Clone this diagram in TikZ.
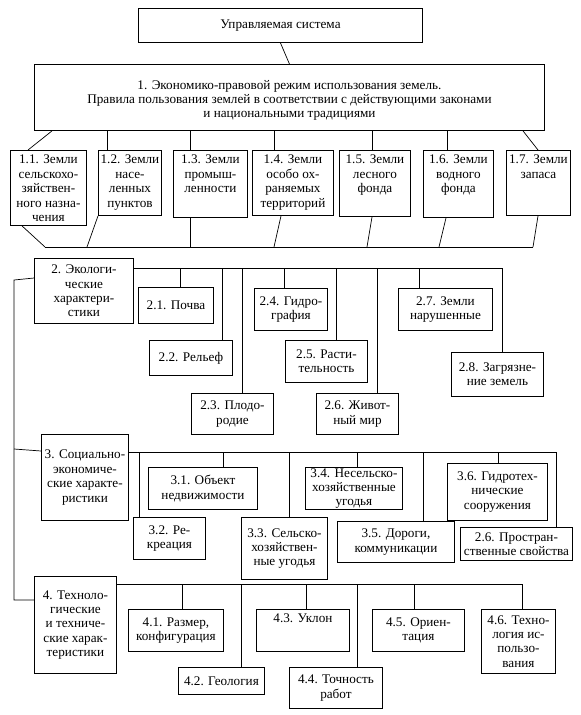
\documentclass[tikz,border=0pt]{standalone}
\usepackage{fontspec}
\setmainfont{Liberation Serif}
\newcommand\fs{\fontsize{13.2}{14.4}\selectfont}
\tikzset{
  box/.style={draw, line width=0.9pt, anchor=north west, inner sep=0pt},
  lbl/.style={align=center, inner sep=0pt, font=\fs},
  con/.style={line width=0.7pt},
}
% centred text box
\newcommand\B[6]{\node[box, minimum width={#4-#2}, minimum height={#5-#3}] (#1) at (#2,#3) {};
  \node[lbl] (#1t) at (#1.center) {#6};}
% top-aligned text box
\newcommand\T[6]{\node[box, minimum width={#4-#2}, minimum height={#5-#3}] (#1) at (#2,#3) {};
  \node[lbl, anchor=north] (#1t) at ([yshift=-5pt]#1.north) {#6};}
\begin{document}
\begin{tikzpicture}[x=1pt,y=-1pt]
\useasboundingbox (0,0) rectangle (581,715);
% ---- top
\B{top}{138}{8}{422}{42}{Управляемая система}
\node[box, minimum width={544-34}, minimum height={130-64}] (n1) at (34,64) {};
\node[lbl] (n1t) at ([yshift=-3pt]n1.center) {1. Экономико-правовой режим использования земель.\\Правила пользования землей в соответствии с действующими законами\\и национальными традициями};
\draw[con] (top.south) -- (n1.north);
% ---- level 1
\T{n11}{10}{150}{86}{225}{1.1. Земли\\сельскохо-\\зяйствен-\\ного назна-\\чения}
\T{n12}{98}{150}{161}{215}{1.2. Земли\\насе-\\ленных\\пунктов}
\T{n13}{173}{150}{247}{217}{1.3. Земли\\промыш-\\ленности}
\T{n14}{252}{150}{333}{215}{1.4. Земли\\особо ох-\\раняемых\\территорий}
\T{n15}{339}{150}{410}{216}{1.5. Земли\\лесного\\фонда}
\T{n16}{423}{150}{493}{217}{1.6. Земли\\водного\\фонда}
\T{n17}{506}{150}{570}{215}{1.7. Земли\\запаса}
\draw[con] ([xshift=18pt]n1.south west) -- ([xshift=18pt]n11.north west);
\draw[con] ([xshift=73pt]n1.south west) -- ([xshift=9pt]n12.north west);
\draw[con] ([xshift=156pt]n1.south west) -- ([xshift=17pt]n13.north west);
\draw[con] ([xshift=240pt]n1.south west) -- ([xshift=22pt]n14.north west);
\draw[con] ([xshift=338pt]n1.south west) -- ([xshift=33pt]n15.north west);
\draw[con] ([xshift=413pt]n1.south west) -- ([xshift=24pt]n16.north west);
\draw[con] ([xshift=489pt]n1.south west) -- ([xshift=32pt]n17.north west);
% bottom collector
\coordinate (cl) at (45,247);
\coordinate (c12) at (87,247);
\coordinate (c14) at (274,247);
\coordinate (c15) at (367,247);
\coordinate (c16) at (439,247);
\coordinate (cr) at (533,247);
\draw[con] (cl) -- (cr);
\draw[con] ([xshift=12pt]n11.south west) -- (cl);
\draw[con] (n12.south west) -- (c12);
\draw[con] ([xshift=17pt]n13.south west) -- ([xshift=17pt]n13.south west |- cl);
\draw[con] ([xshift=29pt]n14.south west) -- (c14);
\draw[con] ([xshift=33pt]n15.south west) -- (c15);
\draw[con] ([xshift=23pt]n16.south west) -- (c16);
\draw[con] ([xshift=32pt]n17.south west) -- (cr);
% ---- level 2
\B{n2}{34}{258}{133}{323}{2. Экологи-\\ческие\\характери-\\стики}
\B{n21}{138}{287}{213}{323}{2.1. Почва}
\B{n22}{149}{340}{232}{375}{2.2. Рельеф}
\B{n23}{191}{393}{273}{434}{2.3. Плодо-\\родие}
\B{n24}{254}{288}{327}{330}{2.4. Гидро-\\графия}
\B{n25}{285}{340}{367}{382}{2.5. Расти-\\тельность}
\B{n26}{316}{393}{398}{434}{2.6. Живот-\\ный мир}
\B{n27}{398}{288}{492}{330}{2.7. Земли\\нарушенные}
\B{n28}{451}{352}{543}{396}{2.8. Загрязне-\\ние земель}
\coordinate (b2s) at (133,268);
\coordinate (b21) at (180,268);
\coordinate (b22) at (222,268);
\coordinate (b23) at (242,268);
\coordinate (b24) at (284,268);
\coordinate (b25) at (336,268);
\coordinate (b26) at (377,268);
\coordinate (b27) at (419,268);
\coordinate (b28) at (502,268);
\draw[con] (b2s) -- (b28);
\foreach \i in {1,...,8}{\draw[con] (b2\i) -- (b2\i |- n2\i.north);}
% ---- level 3
\B{n3}{41}{434}{128}{520}{3. Социально-\\экономиче-\\ские характе-\\ристики}
\B{n31}{148}{467}{257}{509}{3.1. Объект\\недвижимости}
\B{n32}{133}{517}{205}{559}{3.2. Ре-\\креация}
\B{n33}{241}{517}{327}{579}{3.3. Сельско-\\хозяйствен-\\ные угодья}
\B{n34}{305}{467}{402}{509}{3.4. Несельско-\\хозяйственные\\угодья}
\B{n35}{337}{521}{454}{562}{3.5. Дороги,\\коммуникации}
\B{n36}{447}{463}{547}{520}{3.6. Гидротех-\\нические\\сооружения}
\B{n37}{460}{527}{572}{560}{2.6. Простран-\\ственные свойства}
\coordinate (b3s) at (128,452);
\coordinate (b31) at (223,452);
\coordinate (b32) at (139,452);
\coordinate (b33) at (289,452);
\coordinate (b34) at (357,452);
\coordinate (b35) at (423,452);
\coordinate (b36) at (498,452);
\coordinate (b37) at (556,452);
\draw[con] (b3s) -- (b37);
\foreach \i in {1,...,7}{\draw[con] (b3\i) -- (b3\i |- n3\i.north);}
% ---- level 4
\B{n4}{34}{576}{116}{673}{4. Техноло-\\гические\\и техниче-\\ские харак-\\теристики}
\B{n41}{128}{609}{223}{651}{4.1. Размер,\\конфигурация}
\B{n42}{178}{667}{264}{694}{4.2. Геология}
\T{n43}{256}{609}{349}{651}{4.3. Уклон}
\B{n44}{289}{667}{382}{708}{4.4. Точность\\работ}
\B{n45}{372}{609}{464}{651}{4.5. Ориен-\\тация}
\B{n46}{481}{609}{555}{673}{4.6. Техно-\\логия ис-\\пользо-\\вания}
\coordinate (b4s) at (116,584);
\coordinate (b41) at (182,584);
\coordinate (b42) at (241,584);
\coordinate (b43) at (306,584);
\coordinate (b44) at (357,584);
\coordinate (b45) at (414,584);
\coordinate (b46) at (522,584);
\draw[con] (b4s) -- (b46);
\foreach \i in {1,...,6}{\draw[con] (b4\i) -- (b4\i |- n4\i.north);}
% ---- trunk
\coordinate (tr0) at (14,280);
\coordinate (tr3) at (14,449);
\coordinate (tr4) at (14,600);
\draw[con] ([yshift=-20pt]n2.north west) -- (tr0) -- (tr4) -- (tr4 -| n4.west);
\draw[con] (tr3) -- ([yshift=-17pt]n3.north west);
\end{tikzpicture}
\end{document}
